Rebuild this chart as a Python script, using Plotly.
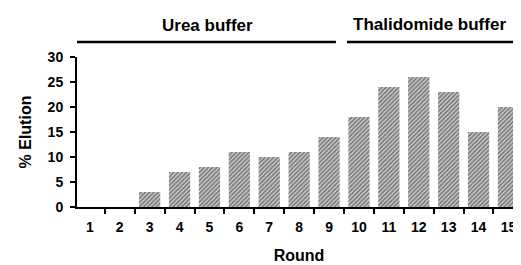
import plotly.graph_objects as go

rounds = [str(i) for i in range(1, 16)]
elution = [0, 0, 3, 7, 8, 11, 10, 11, 14, 18, 24, 26, 23, 15, 20]
y_ticks = [0, 5, 10, 15, 20, 25, 30]
groups = ["Urea buffer", "Thalidomide buffer"]

FONT = "Liberation Sans"

fig = go.Figure()
fig.add_trace(go.Bar(
    x=rounds, y=elution, width=0.71,
    marker=dict(color="white",
                pattern=dict(shape="/", fgcolor="black", bgcolor="white", size=3, solidity=0.75),
                line=dict(width=0)),
))

# page body has an 8px default margin, so the figure is sized/offset to compensate
fig.update_layout(
    width=513, height=257,
    margin=dict(l=69, r=0, t=49, b=58),
    paper_bgcolor="white", plot_bgcolor="white",
    showlegend=False,
    font=dict(family=FONT, size=14, color="black"),
)
fig.update_xaxes(
    type="category", range=[-0.43, 14.42], automargin=False,
    showline=True, linecolor="black", linewidth=2,
    ticks="outside", tickson="boundaries", ticklen=5, tickwidth=1.5, tickcolor="black",
    showgrid=False, zeroline=False, ticklabelstandoff=6,
    tickfont=dict(size=14, weight="bold"),
    title=dict(text="Round", font=dict(size=16, weight="bold"), standoff=16),
)
fig.update_yaxes(
    range=[0, 30], tickvals=y_ticks, automargin=False,
    showline=True, linecolor="black", linewidth=2,
    ticks="outside", ticklen=5, tickwidth=1.5, tickcolor="black",
    showgrid=False, zeroline=False, ticklabelstandoff=4,
    tickfont=dict(size=14, weight="bold"),
    title=dict(text="% Elution", font=dict(size=16, weight="bold"), standoff=12),
)

# group header lines and labels
fig.add_shape(type="line", xref="x", yref="paper", x0=-0.5, x1=8.23, y0=1.1, y1=1.1,
              line=dict(color="black", width=2.5))
fig.add_shape(type="line", xref="x", yref="paper", x0=8.6, x1=14.5, y0=1.1, y1=1.1,
              line=dict(color="black", width=2.5))
fig.add_annotation(text=groups[0], xref="x", yref="paper", x=3.95, y=1.21,
                   showarrow=False, font=dict(size=17, weight="bold"), yanchor="middle")
fig.add_annotation(text=groups[1], xref="x", yref="paper", x=11.35, y=1.22,
                   showarrow=False, font=dict(size=17, weight="bold"), yanchor="middle")

fig.write_html("out.html")
